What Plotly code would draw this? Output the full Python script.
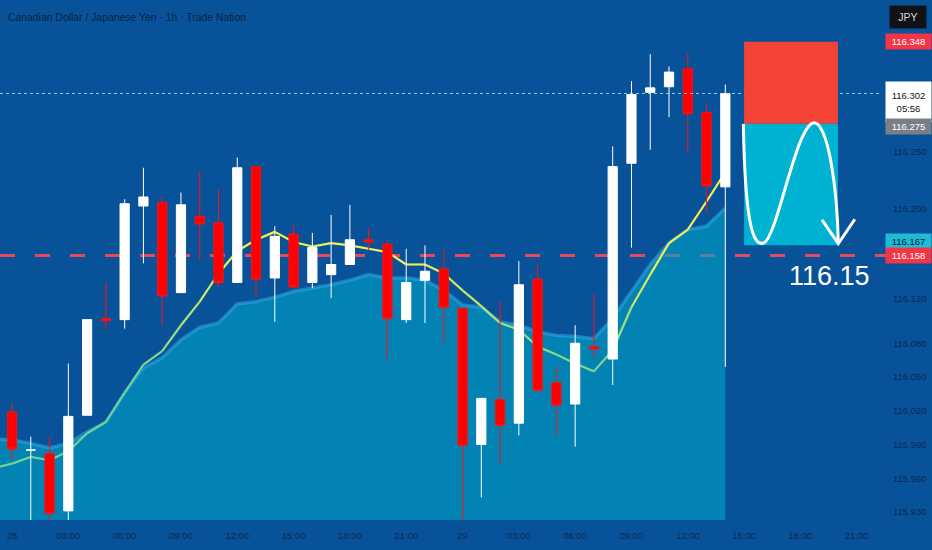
import plotly.graph_objects as go

# ---------------- data ----------------
hours = list(range(0, 39))
opens = [116.019, 115.985, 115.982, 115.931, 116.016, 116.102, 116.101, 116.202, 116.205, 116.125,
         116.193, 116.187, 116.134, 116.237, 116.138, 116.177, 116.134, 116.141, 116.150, 116.172,
         116.168, 116.101, 116.136, 116.146, 116.111, 115.990, 116.030, 116.009, 116.137, 116.045,
         116.026, 116.077, 116.066, 116.240, 116.303, 116.308, 116.324, 116.285, 116.219]
closes = [115.986, 115.9852, 115.929, 116.015, 116.101, 116.100, 116.204, 116.210, 116.122, 116.203,
          116.186, 116.134, 116.236, 116.137, 116.175, 116.130, 116.165, 116.150, 116.172, 116.170,
          116.102, 116.134, 116.144, 116.112, 115.989, 116.031, 116.007, 116.132, 116.038, 116.025,
          116.080, 116.075, 116.237, 116.301, 116.307, 116.321, 116.284, 116.220, 116.302]
highs = [116.027, 115.997, 115.997, 116.062, 116.101, 116.134, 116.208, 116.236, 116.210, 116.214,
         116.233, 116.217, 116.245, 116.237, 116.184, 116.185, 116.178, 116.194, 116.203, 116.183,
         116.172, 116.164, 116.167, 116.164, 116.111, 116.031, 116.117, 116.153, 116.150, 116.059,
         116.096, 116.124, 116.255, 116.313, 116.337, 116.326, 116.338, 116.293, 116.310]
lows = [115.976, 115.920, 115.921, 115.922, 116.016, 116.092, 116.093, 116.151, 116.096, 116.125,
        116.154, 116.130, 116.134, 116.121, 116.099, 116.129, 116.129, 116.120, 116.150, 116.163,
        116.066, 116.098, 116.098, 116.080, 115.921, 115.943, 115.972, 115.998, 116.037, 115.998,
        115.988, 116.067, 116.043, 116.165, 116.252, 116.281, 116.249, 116.196, 116.059]

ind_hours = list(range(-1, 39))
area_vals = [115.995, 115.994, 115.991, 115.987, 115.991, 116.001, 116.010, 116.036, 116.058, 116.067,
             116.083, 116.094, 116.098, 116.115, 116.117, 116.121, 116.126, 116.129, 116.132, 116.136,
             116.141, 116.138, 116.138, 116.136, 116.127, 116.114, 116.112, 116.099, 116.096, 116.090,
             116.087, 116.086, 116.084, 116.102, 116.126, 116.150, 116.169, 116.181, 116.184, 116.200]
ema_vals = [115.969, 115.973, 115.979, 115.976, 115.984, 116.000, 116.010, 116.036, 116.061, 116.073,
            116.096, 116.117, 116.142, 116.162, 116.172, 116.179, 116.170, 116.166, 116.169, 116.167,
            116.164, 116.161, 116.150, 116.150, 116.142, 116.127, 116.113, 116.098, 116.092, 116.077,
            116.070, 116.062, 116.055, 116.074, 116.112, 116.141, 116.169, 116.181, 116.206, 116.232]

tick_hours = list(range(0, 46, 3))
tick_labels = ["28", "03:00", "06:00", "09:00", "12:00", "15:00", "18:00", "21:00",
               "29", "03:00", "06:00", "09:00", "12:00", "15:00", "18:00", "21:00"]
price_ticks = [116.250, 116.200, 116.120, 116.080, 116.050, 116.020, 115.990, 115.960, 115.930]

stop_level = 116.348
entry_level = 116.275
target_level = 116.167
support_level = 116.158
last_price = 116.302
countdown = "05:56"
zone_start, zone_end = 39, 44
big_label = "116.15"
title_text = "Canadian Dollar / Japanese Yen · 1h · Trade Nation"

# ---------------- style ----------------
BG = "#08529a"
AXIS_TXT = "#0b2a55"
FONT = "Liberation Sans, Arial, sans-serif"
X_RANGE = [-0.64, 46.24]
Y_RANGE = [115.9229, 116.3851]

fig = go.Figure()

# area indicator
fig.add_trace(go.Scatter(x=ind_hours, y=area_vals, mode="lines", fill="tozeroy",
                         fillcolor="rgba(0,164,199,0.6)",
                         line=dict(color="rgba(45,165,222,0.6)", width=3.5),
                         hoverinfo="skip", showlegend=False))

# EMA line with green->yellow gradient
g0 = (110, 212, 150)
g1 = (245, 240, 85)
for i in range(len(ind_hours) - 1):
    v = (ema_vals[i] + ema_vals[i + 1]) / 2
    t = min(1.0, max(0.0, (v - 116.05) / 0.11))
    c = tuple(int(g0[k] + (g1[k] - g0[k]) * t) for k in range(3))
    fig.add_trace(go.Scatter(x=ind_hours[i:i + 2], y=ema_vals[i:i + 2], mode="lines",
                             line=dict(color="rgb(%d,%d,%d)" % c, width=2.2),
                             hoverinfo="skip", showlegend=False))

# candles on an overlaid subplot so they sit above the filled area
fig.add_trace(go.Candlestick(
    x=hours, open=opens, high=highs, low=lows, close=closes, xaxis="x2", yaxis="y2",
    increasing=dict(line=dict(color="#ffffff", width=1), fillcolor="#ffffff"),
    decreasing=dict(line=dict(color="#ff1010", width=1), fillcolor="#ff0000"),
    whiskerwidth=0, showlegend=False, hoverinfo="skip"))

shapes = []
shapes.append(dict(type="line", xref="paper", x0=0, x1=1.007, yref="y", y0=support_level, y1=support_level,
                   line=dict(color="#e8485c", width=3, dash="15px,20px"), layer="below"))
shapes.append(dict(type="line", xref="paper", x0=0, x1=1, yref="y", y0=last_price, y1=last_price,
                   line=dict(color="rgba(200,225,245,0.8)", width=1, dash="dot"), layer="above"))
shapes.append(dict(type="rect", xref="x", yref="y", x0=zone_start, x1=zone_end, y0=entry_level, y1=stop_level,
                   fillcolor="#f44336", line=dict(width=0), layer="above"))
shapes.append(dict(type="rect", xref="x", yref="y", x0=zone_start, x1=zone_end, y0=target_level, y1=entry_level,
                   fillcolor="#00b2d2", line=dict(width=0), layer="above"))
span = zone_end - zone_start
hgt = entry_level - target_level
def px(f):
    return zone_start + f * span
def py(f):
    return target_level + f * hgt
wave = ("M {:.3f},{:.4f} C {:.3f},{:.4f} {:.3f},{:.4f} {:.3f},{:.4f} "
        "C {:.3f},{:.4f} {:.3f},{:.4f} {:.3f},{:.4f} "
        "C {:.3f},{:.4f} {:.3f},{:.4f} {:.3f},{:.4f}").format(
    px(-0.008), py(1.0),
    px(0.01), py(0.25), px(0.08), py(-0.02), px(0.21), py(0.02),
    px(0.36), py(0.06), px(0.58), py(1.12), px(0.78), py(1.0),
    px(0.90), py(0.92), px(0.99), py(0.5), px(1.004), py(0.015))
shapes.append(dict(type="path", xref="x", yref="y", path=wave,
                   line=dict(color="white", width=3), layer="above"))
arrow = "M {:.3f},{:.4f} L {:.3f},{:.4f} L {:.3f},{:.4f}".format(
    px(0.83), py(0.21), px(1.004), py(0.015), px(1.18), py(0.215))
shapes.append(dict(type="path", xref="x", yref="y", path=arrow,
                   line=dict(color="white", width=3), layer="above"))

annotations = []
annotations.append(dict(xref="paper", yref="paper", x=0, y=1, xanchor="left", yanchor="middle",
                        xshift=6, yshift=-17, text=title_text, showarrow=False,
                        font=dict(family=FONT, size=10.4, color="#0a2242")))
annotations.append(dict(xref="x", yref="y", x=zone_end - 0.47, y=116.1398,
                        text=big_label, showarrow=False,
                        font=dict(family=FONT, size=27, color="white")))

def price_box(y, text, bg, fg, yshift=0, height=13):
    annotations.append(dict(xref="paper", yref="y", x=1, y=y, xanchor="left", yanchor="middle",
                            xshift=5, yshift=yshift, text=text, showarrow=False, bgcolor=bg,
                            width=43, height=height, align="center",
                            font=dict(family=FONT, size=9.5, color=fg)))

price_box(stop_level, "%.3f" % stop_level, "#f23645", "white")
price_box(last_price, "%.3f<br>%s" % (last_price, countdown), "#ffffff", "#111111", yshift=-9, height=38)
price_box(entry_level, "%.3f" % entry_level, "#7a7f86", "white", yshift=-3)
price_box(target_level, "%.3f" % target_level, "#1ebad6", "#0b1a2e", yshift=4)
price_box(support_level, "%.3f" % support_level, "#f23645", "white")
annotations.append(dict(xref="paper", yref="paper", x=1, y=1, xanchor="left", yanchor="middle",
                        xshift=9, yshift=-17, text="JPY", showarrow=False, bgcolor="#111216",
                        width=36, height=22, borderpad=0,
                        font=dict(family=FONT, size=10.5, color="#d8d8d8")))

fig.update_layout(
    width=932, height=550,
    margin=dict(l=0, r=52, t=0, b=30, autoexpand=False),
    paper_bgcolor=BG, plot_bgcolor=BG,
    shapes=shapes, annotations=annotations,
    showlegend=False, hovermode=False,
    xaxis=dict(range=X_RANGE, showgrid=False, zeroline=False, rangeslider=dict(visible=False),
               tickmode="array", tickvals=tick_hours, ticktext=tick_labels,
               tickfont=dict(family=FONT, size=9.5, color=AXIS_TXT), ticks="", showline=False,
               ticklabelstandoff=8),
    yaxis=dict(range=Y_RANGE, side="right", showgrid=False, zeroline=False,
               tickmode="array", tickvals=price_ticks, ticktext=["%.3f" % v for v in price_ticks],
               tickfont=dict(family=FONT, size=9.5, color=AXIS_TXT), ticks="", showline=False,
               ticklabelstandoff=12),
    xaxis2=dict(range=X_RANGE, overlaying="x", visible=False, rangeslider=dict(visible=False)),
    yaxis2=dict(range=Y_RANGE, overlaying="y", visible=False),
)

fig.write_html("out.html", config={"displayModeBar": False},
               post_script="document.body.style.margin='0';document.body.style.background='%s';" % BG)
